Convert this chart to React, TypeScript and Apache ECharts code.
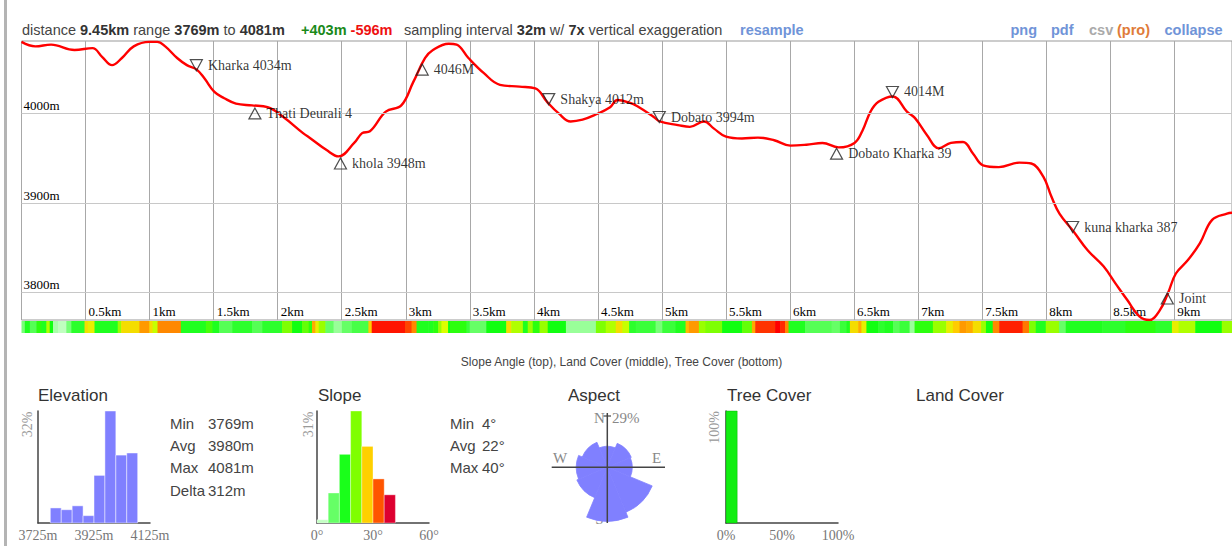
import React, { useEffect, useRef } from "react";
import * as echarts from "echarts";

// ---------- elevation profile ----------
const profileKm = [0, 0.108, 0.231, 0.414, 0.554, 0.631, 0.707, 0.784, 0.876, 0.998, 1.06, 1.122, 1.215, 1.291, 1.368, 1.429, 1.506, 1.583, 1.674, 1.799, 1.921, 2.044, 2.198, 2.257, 2.382, 2.475, 2.597, 2.659, 2.72, 2.844, 2.965, 3.058, 3.151, 3.212, 3.335, 3.397, 3.489, 3.61, 3.735, 3.888, 4.011, 4.103, 4.194, 4.287, 4.38, 4.472, 4.595, 4.652, 4.746, 4.808, 4.936, 4.983, 5.124, 5.218, 5.328, 5.406, 5.5, 5.624, 5.749, 5.876, 6.002, 6.128, 6.253, 6.379, 6.503, 6.566, 6.628, 6.69, 6.802, 6.912, 6.974, 7.068, 7.162, 7.256, 7.35, 7.429, 7.506, 7.63, 7.789, 7.883, 7.978, 8.04, 8.103, 8.213, 8.323, 8.447, 8.54, 8.634, 8.727, 8.805, 8.887, 8.95, 9.012, 9.106, 9.2, 9.295, 9.411, 9.45];
const profileElev = [4080, 4075, 4077, 4071, 4073, 4063, 4054, 4062, 4075, 4080, 4080, 4075, 4062, 4054, 4049, 4039, 4024, 4017, 4011, 4009, 4007, 3996, 3978, 3972, 3959, 3952, 3967, 3978, 3980, 4002, 4009, 4035, 4062, 4071, 4078, 4077, 4062, 4045, 4032, 4030, 4028, 4013, 4000, 3991, 3993, 3998, 4007, 4015, 4012, 4008, 3996, 3991, 3987, 3985, 3991, 3983, 3974, 3972, 3973, 3970, 3964, 3965, 3967, 3962, 3967, 3981, 4002, 4013, 4019, 4002, 3995, 3976, 3961, 3967, 3968, 3955, 3942, 3940, 3945, 3944, 3929, 3907, 3888, 3868, 3847, 3829, 3810, 3791, 3773, 3769, 3780, 3799, 3821, 3836, 3855, 3881, 3888, 3889];

const elevGridValues = [3800, 3900, 4000];

// ---------- waypoints ----------
const markerNames = ["Kharka 4034m", "Thati Deurali 4", "khola 3948m", "4046M", "Shakya 4012m", "Dobato 3994m", "Dobato Kharka 39", "4014M", "kuna kharka 387", "Joint"];
const markerKm = [1.365, 1.822, 2.49, 3.128, 4.116, 4.979, 6.363, 6.799, 8.206, 8.945];
const markerElev = [4054, 4000, 3944, 4049, 4016, 3996, 3955, 4024, 3873, 3793];
const markerDown = [true, false, false, false, true, true, false, true, true, false];

// ---------- slope strip (segment end km, slope degrees) ----------
const slopeEndKm = [0.026, 0.065, 0.117, 0.156, 0.194, 0.22, 0.246, 0.285, 0.35, 0.389, 0.492, 0.518, 0.57, 0.751, 0.778, 0.92, 0.998, 1.023, 1.062, 1.244, 1.439, 1.49, 1.542, 1.645, 1.801, 1.879, 2.034, 2.112, 2.19, 2.242, 2.268, 2.294, 2.32, 2.372, 2.436, 2.501, 2.579, 2.708, 2.734, 2.994, 3.045, 3.084, 3.175, 3.214, 3.253, 3.278, 3.33, 3.344, 3.473, 3.499, 3.628, 3.784, 3.823, 3.914, 3.952, 3.991, 4.044, 4.108, 4.25, 4.484, 4.561, 4.639, 4.691, 4.743, 4.795, 4.95, 5.002, 5.106, 5.184, 5.21, 5.288, 5.339, 5.469, 5.625, 5.702, 5.728, 5.883, 5.922, 5.961, 5.988, 6.117, 6.324, 6.389, 6.441, 6.467, 6.532, 6.557, 6.596, 6.687, 6.739, 6.804, 6.855, 6.933, 6.972, 7.115, 7.219, 7.271, 7.323, 7.374, 7.426, 7.491, 7.529, 7.582, 7.633, 7.815, 7.866, 7.918, 7.996, 8.099, 8.152, 8.437, 8.618, 8.852, 8.981, 9.033, 9.163, 9.37, 9.45];
const slopeDeg = [8, 14, 10, 16, 14, 21, 15, 5, 3, 8, 13, 25, 24, 14, 20, 25, 29, 25, 22, 30, 14, 17, 14, 10, 13, 10, 13, 19, 15, 18, 16, 28, 24, 20, 9, 6, 9, 11, 26, 38, 34, 30, 14, 14, 16, 20, 23, 15, 16, 12, 9, 15, 25, 21, 14, 20, 16, 20, 15, 6, 19, 21, 25, 22, 13, 12, 8, 12, 14, 27, 29, 20, 19, 15, 18, 28, 35, 40, 36, 30, 14, 10, 9, 12, 14, 25, 28, 24, 15, 13, 14, 10, 12, 6, 16, 20, 24, 26, 29, 28, 25, 20, 15, 30, 37, 31, 19, 14, 20, 9, 14, 13, 16, 13, 24, 21, 15, 20];

// ---------- histograms ----------
const elevBinStart = [3769, 3808, 3847, 3886, 3925, 3964, 4003, 4042];
const elevBinEnd = [3808, 3847, 3886, 3925, 3964, 4003, 4042, 4081];
const elevPct = [4.3, 3.8, 4.9, 2.1, 13.6, 32, 19.4, 20];
const elevTicks = [3725, 3925, 4125];

const slopeBinStart = [0, 6, 12, 18, 24, 30, 36];
const slopeBinEnd = [6, 12, 18, 24, 30, 36, 42];
const slopePct = [0.9, 8.3, 19, 31, 21.2, 12.2, 7.8];
const slopeBinColors = ["#c4ffc4", "#66ff66", "#1aff1a", "#7fff00", "#ffd000", "#ff5500", "#dd0030"];

const aspectDirs = ["N", "NE", "E", "SE", "S", "SW", "W", "NW"];
const aspectPct = [4.4, 6.7, 6.2, 23.5, 29, 10.8, 9.6, 7.3];

const treeBinStart = [0];
const treeBinEnd = [10];
const treePct = [100];

const SERIF = '"Liberation Serif", "Times New Roman", serif';
const SANS = '"Liberation Sans", Arial, sans-serif';

const slopeStops: [number, number[]][] = [
  [0, [225, 255, 225]],
  [5, [170, 255, 170]],
  [10, [85, 255, 85]],
  [15, [17, 255, 17]],
  [20, [153, 255, 0]],
  [23, [221, 255, 0]],
  [26, [255, 204, 0]],
  [30, [255, 136, 0]],
  [35, [255, 51, 0]],
  [40, [255, 0, 0]],
];
function slopeColor(d: number) {
  if (d <= slopeStops[0][0]) return `rgb(${slopeStops[0][1].join(",")})`;
  for (let i = 1; i < slopeStops.length; i++) {
    if (d <= slopeStops[i][0]) {
      const [a, ca] = slopeStops[i - 1];
      const [b, cb] = slopeStops[i];
      const t = (d - a) / (b - a);
      const c = ca.map((v, k) => Math.round(v + (cb[k] - v) * t));
      return `rgb(${c.join(",")})`;
    }
  }
  return "rgb(255,0,0)";
}

function histRender(colorFor: (i: number) => string, stroke: string) {
  return (params: any, api: any) => {
    const p0 = api.coord([api.value(0), api.value(2)]);
    const p1 = api.coord([api.value(1), 0]);
    return {
      type: "rect",
      shape: { x: p0[0], y: p0[1], width: p1[0] - p0[0], height: p1[1] - p0[1] },
      style: { fill: colorFor(params.dataIndex), stroke, lineWidth: 1 },
    };
  };
}

export default function App() {
  const ref = useRef<HTMLDivElement>(null);
  useEffect(() => {
    const chart = echarts.init(ref.current!, null, { renderer: "svg" });

    const W0 = 9.45 * 128.6;
    const profile = profileKm.map((k, i) => [k, profileElev[i]]);
    const markers = markerNames.map((n, i) => ({
      name: n,
      value: [markerKm[i], markerElev[i]],
      symbolRotate: markerDown[i] ? 180 : 0,
    }));
    const strip = slopeEndKm.map((e, i) => [i === 0 ? 0 : slopeEndKm[i - 1], e, slopeDeg[i]]);
    const elevHist = elevPct.map((p, i) => [elevBinStart[i], elevBinEnd[i], p]);
    const slopeHist = slopePct.map((p, i) => [slopeBinStart[i], slopeBinEnd[i], p]);
    const treeHist = treePct.map((p, i) => [treeBinStart[i], treeBinEnd[i], p]);

    const txt = (text: string, x: number, y: number, size: number, fill: string, extra: any = {}) => ({
      type: "text",
      x,
      y,
      silent: true,
      style: { text, x: 0, y: 0, fill, fontSize: size, fontFamily: SANS, verticalAlign: "middle", ...extra },
    });
    const rich = (size: number) => ({
      b: { fontWeight: "bold", fontSize: size, fontFamily: SANS, fill: "#333" },
      g: { fontWeight: "bold", fontSize: size, fontFamily: SANS, fill: "#1a8a1a" },
      r: { fontWeight: "bold", fontSize: size, fontFamily: SANS, fill: "#ee1111" },
    });
    const rot = (text: string, x: number, y: number) => ({
      type: "text",
      x,
      y,
      rotation: Math.PI / 2,
      silent: true,
      style: { text, x: 0, y: 0, fill: "#999", fontSize: 14, fontFamily: SERIF, align: "center", verticalAlign: "middle" },
    });

    const axisCommon = {
      axisLine: { show: true, lineStyle: { color: "#444", width: 1.5 } },
      axisTick: { show: false },
      splitLine: { show: false },
    };
    const histLabel = { color: "#777", fontFamily: SERIF, fontSize: 14, margin: 5 };
    const HF = 14.5;

    const option: any = {
      animation: false,
      backgroundColor: "#fff",
      grid: [
        { left: 21.5, top: 41, width: W0, height: 279, show: true, borderColor: "#999", borderWidth: 1, backgroundColor: "transparent" },
        { left: 21.5, top: 321, width: W0, height: 12 },
        { left: 38, top: 411, width: 112, height: 112 },
        { left: 317, top: 411, width: 112, height: 112 },
        { left: 726, top: 411, width: 112, height: 112 },
      ],
      xAxis: [
        {
          gridIndex: 0,
          type: "value",
          min: 0,
          max: 9.45,
          interval: 0.5,
          axisLine: { show: false },
          axisTick: { show: false },
          splitLine: { show: true, lineStyle: { color: "#a8a8a8", width: 1 } },
          axisLabel: {
            inside: true,
            showMinLabel: false,
            showMaxLabel: false,
            align: "left",
            padding: [0, 0, 0, 3],
            margin: 2,
            color: "#000",
            fontFamily: SERIF,
            fontSize: 13,
            formatter: (v: number) => `${v}km`,
          },
        },
        { gridIndex: 1, type: "value", min: 0, max: 9.45, show: false },
        {
          gridIndex: 2,
          type: "value",
          min: 3725,
          max: 4125,
          ...axisCommon,
          axisLabel: { ...histLabel, customValues: elevTicks, formatter: (v: number) => `${v}m` },
        },
        {
          gridIndex: 3,
          type: "value",
          min: 0,
          max: 60,
          interval: 30,
          ...axisCommon,
          axisLabel: { ...histLabel, formatter: (v: number) => `${v}°` },
        },
        {
          gridIndex: 4,
          type: "value",
          min: 0,
          max: 100,
          interval: 50,
          ...axisCommon,
          axisLabel: { ...histLabel, formatter: (v: number) => `${v}%` },
        },
      ],
      yAxis: [
        { gridIndex: 0, type: "value", min: 3769, max: 4081, show: false },
        { gridIndex: 1, type: "value", min: 0, max: 1, show: false },
        { gridIndex: 2, type: "value", min: 0, max: 32, ...axisCommon, axisLabel: { show: false } },
        { gridIndex: 3, type: "value", min: 0, max: 31, ...axisCommon, axisLabel: { show: false } },
        { gridIndex: 4, type: "value", min: 0, max: 100, ...axisCommon, axisLabel: { show: false } },
      ],
      polar: { center: [607.3, 467.3], radius: 54 },
      angleAxis: {
        type: "category",
        data: aspectDirs,
        startAngle: 112.5,
        axisLine: { show: false },
        axisTick: { show: false },
        axisLabel: { show: false },
        splitLine: { show: false },
      },
      radiusAxis: {
        min: 0,
        max: Math.sqrt(29),
        axisLine: { show: false },
        axisTick: { show: false },
        axisLabel: { show: false },
        splitLine: { show: false },
      },
      series: [
        {
          type: "line",
          xAxisIndex: 0,
          yAxisIndex: 0,
          data: [[0, 3769]],
          showSymbol: false,
          lineStyle: { width: 0 },
          z: 1,
          silent: true,
          markLine: {
            silent: true,
            symbol: "none",
            lineStyle: { color: "#c8c8c8", type: "solid", width: 1 },
            label: {
              position: "insideStartTop",
              distance: [2, 1],
              color: "#000",
              fontFamily: SERIF,
              fontSize: 13,
              formatter: (p: any) => `${p.value}m`,
            },
            data: elevGridValues.map((v) => ({ yAxis: v })),
          },
        },
        {
          type: "line",
          xAxisIndex: 0,
          yAxisIndex: 0,
          data: profile,
          smooth: 0.4,
          showSymbol: false,
          silent: true,
          lineStyle: { color: "#ff0000", width: 2.4 },
          z: 3,
        },
        {
          type: "scatter",
          xAxisIndex: 0,
          yAxisIndex: 0,
          data: markers,
          symbol: "triangle",
          symbolSize: [12, 11],
          silent: true,
          z: 5,
          itemStyle: { color: "rgba(255,255,255,0)", borderColor: "#222", borderWidth: 1.2 },
          label: {
            show: true,
            position: "right",
            distance: 5,
            formatter: "{b}",
            color: "#000",
            fontFamily: SERIF,
            fontSize: 14,
          },
        },
        {
          type: "custom",
          xAxisIndex: 1,
          yAxisIndex: 1,
          data: strip,
          silent: true,
          renderItem: (params: any, api: any) => {
            const s = api.coord([api.value(0), 0]);
            const e = api.coord([api.value(1), 0]);
            const cs = params.coordSys;
            return {
              type: "rect",
              shape: { x: s[0], y: cs.y, width: e[0] - s[0] + 0.6, height: cs.height },
              style: { fill: slopeColor(api.value(2)) },
            };
          },
        },
        {
          type: "custom",
          xAxisIndex: 2,
          yAxisIndex: 2,
          data: elevHist,
          silent: true,
          renderItem: histRender(() => "#8080ff", "rgba(255,255,255,0.45)"),
        },
        {
          type: "custom",
          xAxisIndex: 3,
          yAxisIndex: 3,
          data: slopeHist,
          silent: true,
          renderItem: histRender((i) => slopeBinColors[i], "rgba(255,255,255,0.35)"),
        },
        {
          type: "custom",
          xAxisIndex: 4,
          yAxisIndex: 4,
          data: treeHist,
          silent: true,
          renderItem: histRender(() => "#11ee11", "rgba(0,160,0,0.4)"),
        },
        {
          type: "bar",
          coordinateSystem: "polar",
          data: aspectPct.map((p) => Math.sqrt(p)),
          barCategoryGap: "0%",
          silent: true,
          itemStyle: { color: "#8080ff", borderColor: "#8080ff", borderWidth: 0.8 },
          z: 2,
        },
      ],
      graphic: [
        { type: "rect", shape: { x: 4, y: 0, width: 3, height: 546 }, style: { fill: "#b4b4b4" }, silent: true },
        txt("distance {b|9.45km} range {b|3769m} to {b|4081m}", 22, 30, HF, "#444", { rich: rich(HF) }),
        txt("{g|+403m} {r|-596m}", 301, 30, HF, "#444", { rich: rich(HF) }),
        txt("sampling interval {b|32m} w/ {b|7x} vertical exaggeration", 404, 30, HF, "#444", { rich: rich(HF) }),
        txt("resample", 740, 30, HF, "#7094d8", { fontWeight: "bold" }),
        txt("png", 1010.5, 30, HF, "#7094d8", { fontWeight: "bold" }),
        txt("pdf", 1051, 30, HF, "#7094d8", { fontWeight: "bold" }),
        txt("csv", 1089, 30, HF, "#aaaaaa", { fontWeight: "bold" }),
        txt("(pro)", 1117, 30, HF, "#e07b39", { fontWeight: "bold" }),
        txt("collapse", 1164.5, 30, HF, "#7094d8", { fontWeight: "bold" }),
        txt("Slope Angle (top), Land Cover (middle), Tree Cover (bottom)", 621.6, 362, 12, "#444", { align: "center" }),
        txt("Elevation", 38, 395, 17, "#333"),
        txt("Slope", 318, 395, 17, "#333"),
        txt("Aspect", 568, 395, 17, "#333"),
        txt("Tree Cover", 727, 395, 17, "#333"),
        txt("Land Cover", 916, 395, 17, "#333"),
        txt("Min", 170, 423, 15, "#444"),
        txt("3769m", 208, 423, 15, "#444"),
        txt("Avg", 170, 445, 15, "#444"),
        txt("3980m", 208, 445, 15, "#444"),
        txt("Max", 170, 467, 15, "#444"),
        txt("4081m", 208, 467, 15, "#444"),
        txt("Delta", 170, 490, 15, "#444"),
        txt("312m", 208, 490, 15, "#444"),
        txt("Min", 450, 423, 15, "#444"),
        txt("4°", 482, 423, 15, "#444"),
        txt("Avg", 450, 445, 15, "#444"),
        txt("22°", 482, 445, 15, "#444"),
        txt("Max", 450, 467, 15, "#444"),
        txt("40°", 482, 467, 15, "#444"),
        rot("32%", 27, 424.5),
        rot("31%", 308, 424.5),
        rot("100%", 714, 427.5),
        { type: "line", shape: { x1: 551.7, y1: 467.3, x2: 665, y2: 467.3 }, style: { stroke: "#444", lineWidth: 1.5 }, z: 10, silent: true },
        { type: "line", shape: { x1: 607.3, y1: 413, x2: 607.3, y2: 523 }, style: { stroke: "#444", lineWidth: 1.5 }, z: 10, silent: true },
        { type: "line", shape: { x1: 603.5, y1: 416, x2: 611, y2: 416 }, style: { stroke: "#444", lineWidth: 1.2 }, z: 10, silent: true },
        txt("N", 599.5, 418, 15, "#888", { fontFamily: SERIF, align: "center" }),
        txt("29%", 612, 418, 15, "#888", { fontFamily: SERIF }),
        txt("W", 560, 458, 15, "#888", { fontFamily: SERIF, align: "center" }),
        txt("E", 656.5, 458, 15, "#888", { fontFamily: SERIF, align: "center" }),
        txt("S", 599.5, 519, 15, "#888", { fontFamily: SERIF, align: "center" }),
      ],
    };
    chart.setOption(option);
    return () => chart.dispose();
  }, []);
  return (
    <div
      ref={ref}
      style={{ position: "absolute", left: 0, top: 0, width: 1232, height: 546, background: "#fff" }}
    />
  );
}
